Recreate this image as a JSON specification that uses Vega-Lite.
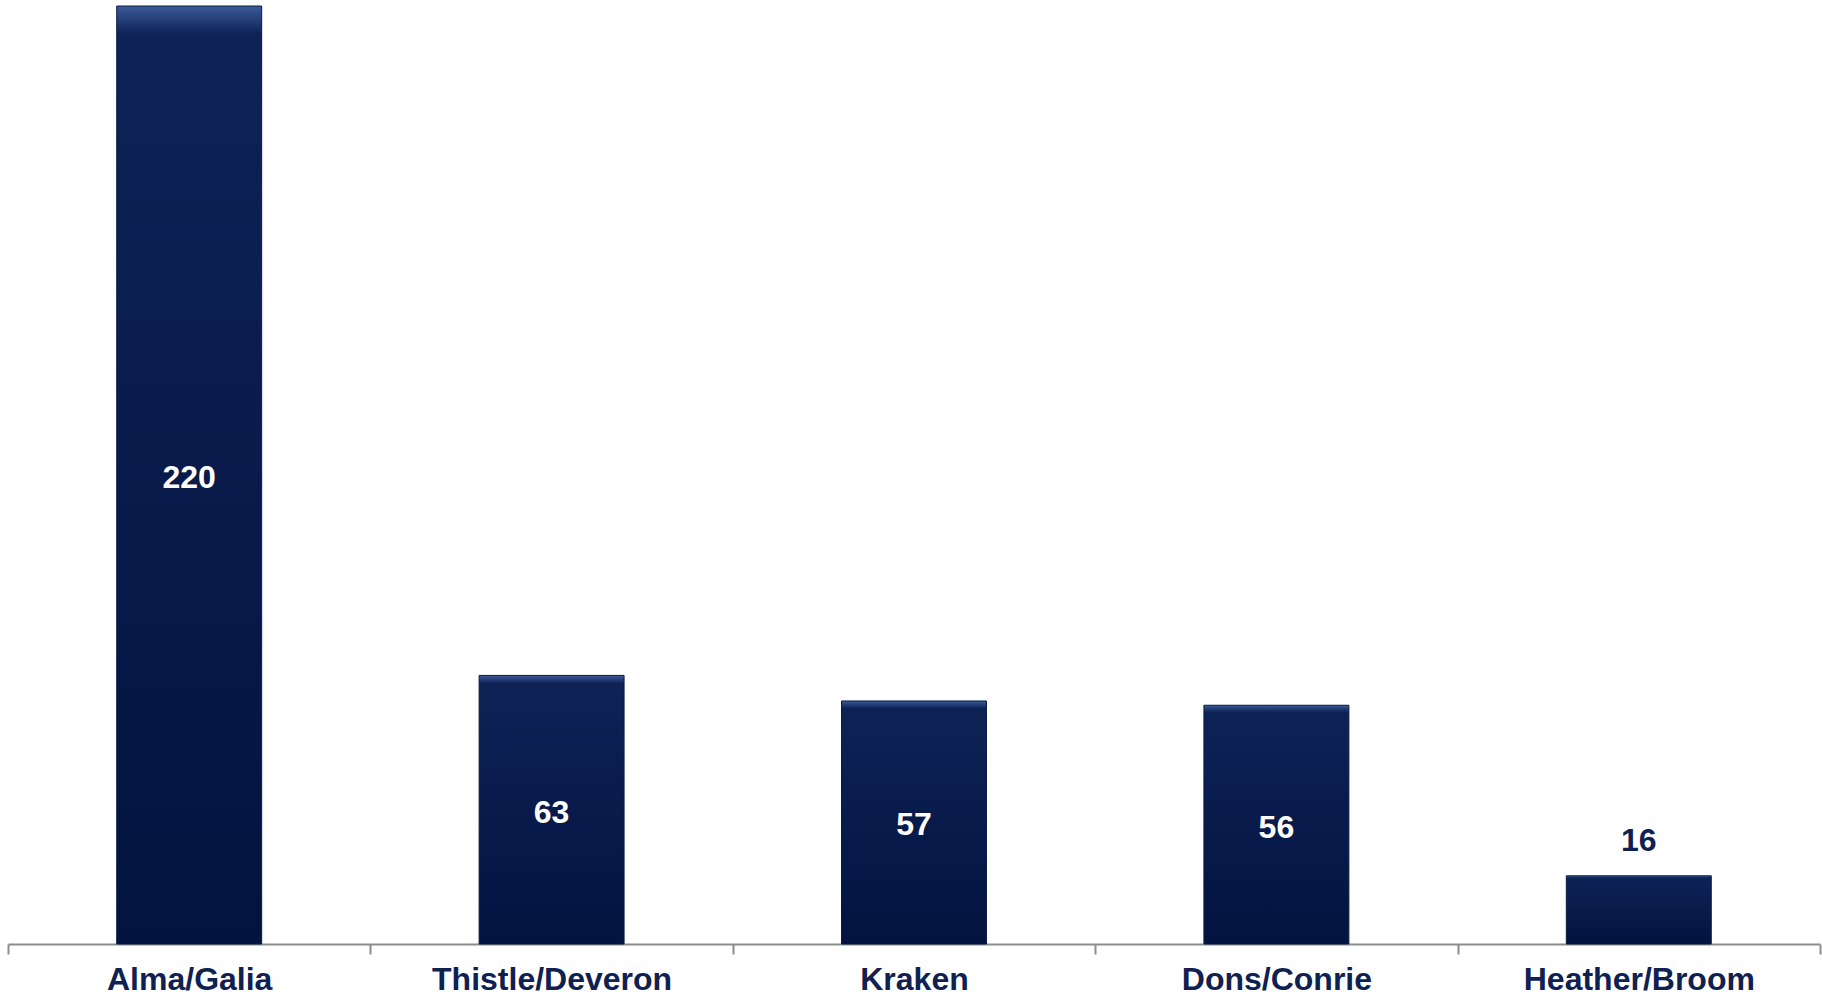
{
  "$schema": "https://vega.github.io/schema/vega-lite/v6.json",
  "width": 1812,
  "height": 938,
  "autosize": {"type": "none"},
  "padding": {"left": 8, "top": 6, "right": 2, "bottom": 54},
  "background": "white",
  "config": {"view": {"stroke": null}},
  "data": {
    "values": [
      {"team": "Alma/Galia", "value": 220},
      {"team": "Thistle/Deveron", "value": 63},
      {"team": "Kraken", "value": 57},
      {"team": "Dons/Conrie", "value": 56},
      {"team": "Heather/Broom", "value": 16}
    ]
  },
  "encoding": {
    "x": {
      "field": "team",
      "type": "nominal",
      "sort": null,
      "scale": {"paddingInner": 0, "paddingOuter": 0},
      "axis": {
        "title": null,
        "labelAngle": 0,
        "domainColor": "#8c8c8c",
        "domainWidth": 2,
        "tickColor": "#8c8c8c",
        "tickWidth": 2,
        "tickSize": 10,
        "tickBand": "extent",
        "labelFont": "Liberation Sans",
        "labelFontWeight": "bold",
        "labelFontSize": 32,
        "labelLimit": 0,
        "labelColor": "#0f2150",
        "labelPadding": 10
      }
    }
  },
  "layer": [
    {
      "mark": {
        "type": "bar",
        "width": {"band": 0.4},
        "stroke": "#0a1a45",
        "strokeWidth": 1,
        "color": {
          "gradient": "linear",
          "x1": 0, "y1": 0, "x2": 0, "y2": 1,
          "stops": [
            {"offset": 0, "color": "#3a5a98"},
            {"offset": 0.03, "color": "#0e2256"},
            {"offset": 1, "color": "#02133f"}
          ]
        }
      },
      "encoding": {
        "y": {"field": "value", "type": "quantitative", "scale": {"domain": [0, 220], "nice": false}, "axis": null}
      }
    },
    {
      "transform": [{"filter": "datum.value >= 30"}],
      "mark": {"type": "text", "font": "Liberation Sans", "fontWeight": "bold", "fontSize": 32, "color": "white", "baseline": "middle", "dy": 3},
      "encoding": {
        "y": {"field": "value", "type": "quantitative", "scale": {"domain": [0, 440], "nice": false}, "axis": null},
        "text": {"field": "value", "type": "quantitative"}
      }
    },
    {
      "transform": [{"filter": "datum.value < 30"}],
      "mark": {"type": "text", "font": "Liberation Sans", "fontWeight": "bold", "fontSize": 32, "color": "#0f2150", "baseline": "alphabetic", "dy": -25},
      "encoding": {
        "y": {"field": "value", "type": "quantitative", "scale": {"domain": [0, 220], "nice": false}, "axis": null},
        "text": {"field": "value", "type": "quantitative"}
      }
    }
  ],
  "resolve": {"scale": {"y": "independent"}}
}
